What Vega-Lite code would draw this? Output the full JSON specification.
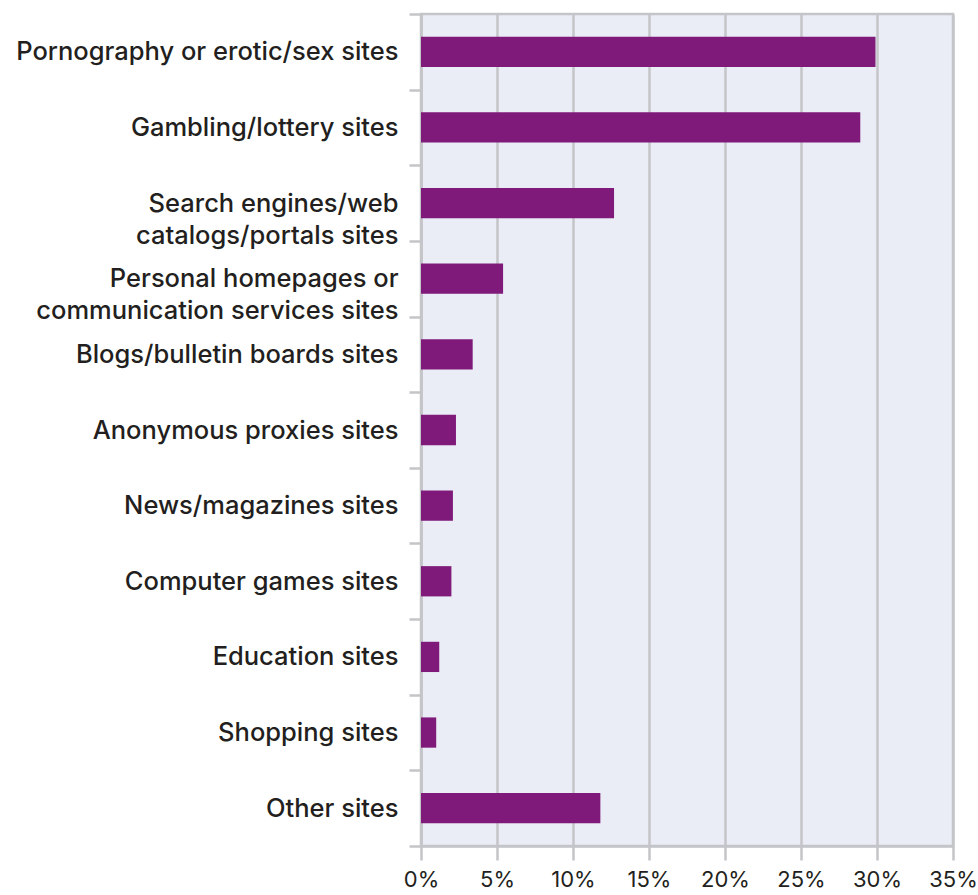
{
  "$schema": "https://vega.github.io/schema/vega-lite/v6.json",
  "autosize": "none",
  "padding": {"left": 421, "top": 14, "right": 25, "bottom": 49},
  "width": 532,
  "height": 832,
  "data": {
    "values": [
      {"site": "Pornography or erotic/sex sites", "share": 29.9},
      {"site": "Gambling/lottery sites", "share": 28.9},
      {"site": "Search engines/web catalogs/portals sites", "share": 12.7},
      {"site": "Personal homepages or communication services sites", "share": 5.4},
      {"site": "Blogs/bulletin boards sites", "share": 3.4},
      {"site": "Anonymous proxies sites", "share": 2.3},
      {"site": "News/magazines sites", "share": 2.1},
      {"site": "Computer games sites", "share": 2.0},
      {"site": "Education sites", "share": 1.2},
      {"site": "Shopping sites", "share": 1.0},
      {"site": "Other sites", "share": 11.8}
    ]
  },
  "mark": {"type": "bar", "color": "#7f1a7a", "height": {"band": 0.4}},
  "encoding": {
    "y": {
      "field": "site",
      "type": "nominal",
      "sort": null,
      "scale": {"paddingInner": 0, "paddingOuter": 0},
      "axis": {
        "title": null,
        "tickBand": "extent",
        "tickSize": 12,
        "tickWidth": 2.5,
        "tickColor": "#c4c5c8",
        "domainColor": "#c4c5c8",
        "domainWidth": 2.5,
        "labelPadding": 11,
        "labelLimit": 600,
        "labelFont": "Inter",
        "labelFontWeight": 500,
        "labelFontSize": 25.5,
        "labelColor": "#231f20",
        "labelLineHeight": 32,
        "labelExpr": "datum.label == 'Search engines/web catalogs/portals sites' ? ['Search engines/web', 'catalogs/portals sites'] : datum.label == 'Personal homepages or communication services sites' ? ['Personal homepages or', 'communication services sites'] : datum.label"
      }
    },
    "x": {
      "field": "share",
      "type": "quantitative",
      "scale": {"domain": [0, 35], "nice": false},
      "axis": {
        "title": null,
        "values": [0, 5, 10, 15, 20, 25, 30, 35],
        "grid": true,
        "gridColor": "#c4c5c8",
        "gridWidth": 2.5,
        "tickSize": 14,
        "tickWidth": 2.5,
        "tickColor": "#c4c5c8",
        "domainColor": "#c4c5c8",
        "domainWidth": 2.5,
        "labelPadding": 9,
        "labelFont": "Inter",
        "labelFontWeight": 400,
        "labelFontSize": 22,
        "labelColor": "#231f20",
        "labelExpr": "datum.value + '%'"
      }
    }
  },
  "config": {
    "view": {"fill": "#eaecf6", "stroke": "#c4c5c8", "strokeWidth": 2.5},
    "axis": {"labelFlush": false, "labelOverlap": false}
  }
}
